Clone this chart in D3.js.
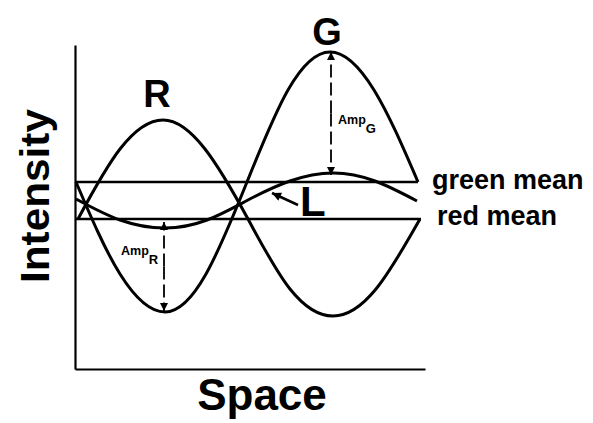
<!DOCTYPE html>
<html>
<head>
<meta charset="utf-8">
<script src="https://cdn.jsdelivr.net/npm/d3@7"></script>
<style>
  html, body { margin: 0; padding: 0; background: #fff; }
  svg { display: block; }
  text { font-family: "Liberation Sans", Arial, Helvetica, sans-serif; font-weight: bold; fill: #000; }
</style>
</head>
<body>
<svg id="chart" width="593" height="423"></svg>
<script>
// ---- data (space units along x, intensity units along y) ----
const gSpace = [1, 45, 90, 131, 172, 213, 255, 299, 343];
const gIntensity = [187, 95, 57, 95, 187, 279, 317, 279, 187];
const rSpace = [3, 45, 88, 130, 173, 215, 258, 301, 345];
const rIntensity = [150, 220, 249, 220, 150, 80, 53, 80, 150];
const lSpace = [1, 45, 90, 132, 173, 215, 258, 300, 342];
const lIntensity = [170, 149, 141, 149, 169, 188, 196, 188, 168];
const greenMean = 187, greenMeanSpan = [1, 343];
const redMean = 150, redMeanSpan = [1, 346];
const ampG = {space: 256, from: 317, to: 194};
const ampR = {space: 89, from: 147, to: 58};
const lPointer = {from: [223, 164], to: [197, 176]};

const svg = d3.select("#chart");
const x = d3.scaleLinear().domain([0, 350]).range([75, 425]);
const y = d3.scaleLinear().domain([0, 324]).range([369, 45]);

const defs = svg.append("defs");
defs.append("marker").attr("id", "ah").attr("viewBox", "0 0 10 10")
  .attr("refX", 10).attr("refY", 5).attr("markerWidth", 10).attr("markerHeight", 8)
  .attr("markerUnits", "userSpaceOnUse").attr("orient", "auto")
  .append("path").attr("d", "M0,0L10,5L0,10Z").attr("fill", "#000");
defs.append("marker").attr("id", "ahL").attr("viewBox", "0 0 10 10")
  .attr("refX", 10).attr("refY", 5).attr("markerWidth", 11).attr("markerHeight", 9)
  .attr("markerUnits", "userSpaceOnUse").attr("orient", "auto")
  .append("path").attr("d", "M0,0L10,5L0,10Z").attr("fill", "#000");

// axes (no ticks)
const xAxis = d3.axisBottom(x).tickValues([]).tickSizeOuter(0);
const yAxis = d3.axisLeft(y).tickValues([]).tickSizeOuter(0);
svg.append("g").attr("transform", `translate(0,${y(0)})`).call(xAxis)
  .select(".domain").attr("stroke", "#000").attr("stroke-width", 2.2);
svg.append("g").attr("transform", `translate(${x(0)},0)`).call(yAxis)
  .select(".domain").attr("stroke", "#000").attr("stroke-width", 2.2);

// mean lines
const meanLine = (v, span) => svg.append("line")
  .attr("x1", x(span[0])).attr("x2", x(span[1])).attr("y1", y(v)).attr("y2", y(v))
  .attr("stroke", "#000").attr("stroke-width", 2.4);
meanLine(greenMean, greenMeanSpan);
meanLine(redMean, redMeanSpan);

// curves
const line = d3.line().x(d => x(d[0])).y(d => y(d[1])).curve(d3.curveNatural);
const curve = (xs, ys) => svg.append("path")
  .attr("d", line(d3.zip(xs, ys)))
  .attr("fill", "none").attr("stroke", "#000").attr("stroke-width", 3);
curve(gSpace, gIntensity);
curve(rSpace, rIntensity);
curve(lSpace, lIntensity);

// amplitude arrows (double headed, dashed)
const half = (a, end) => svg.append("line")
  .attr("x1", x(a.space)).attr("x2", x(a.space))
  .attr("y1", y((a.from + a.to) / 2)).attr("y2", y(end))
  .attr("stroke", "#000").attr("stroke-width", 1.8)
  .attr("stroke-dasharray", "13,5").attr("marker-end", "url(#ah)");
[ampG, ampR].forEach(a => { half(a, a.from); half(a, a.to); });

// L pointer
svg.append("line")
  .attr("x1", x(lPointer.from[0])).attr("y1", y(lPointer.from[1]))
  .attr("x2", x(lPointer.to[0])).attr("y2", y(lPointer.to[1]))
  .attr("stroke", "#000").attr("stroke-width", 2.5).attr("marker-end", "url(#ahL)");

// labels
svg.append("text").attr("x", 157).attr("y", 107).attr("text-anchor", "middle")
  .attr("font-size", 38).text("R");
svg.append("text").attr("x", 327).attr("y", 45).attr("text-anchor", "middle")
  .attr("font-size", 38).text("G");
svg.append("text").attr("x", 300).attr("y", 216).attr("font-size", 42).text("L");

const sub = (xp, yp, s) => {
  const t = svg.append("text").attr("x", xp).attr("y", yp).attr("font-size", 12.5);
  t.append("tspan").text("Amp");
  t.append("tspan").attr("dy", 9).attr("font-size", 13).text(s);
};
sub(x(ampG.space) + 7, 124, "G");
sub(x(ampR.space) - 43, 255, "R");

svg.append("text").attr("x", 432).attr("y", 189).attr("font-size", 27).text("green mean");
svg.append("text").attr("x", 437).attr("y", 225).attr("font-size", 27).text("red mean");

svg.append("text").attr("x", 262).attr("y", 410).attr("text-anchor", "middle")
  .attr("font-size", 44).text("Space");
svg.append("text").attr("transform", "translate(49,196) rotate(-90)")
  .attr("text-anchor", "middle").attr("font-size", 40)
  .attr("textLength", 174).attr("lengthAdjust", "spacingAndGlyphs").text("Intensity");
</script>
</body>
</html>
